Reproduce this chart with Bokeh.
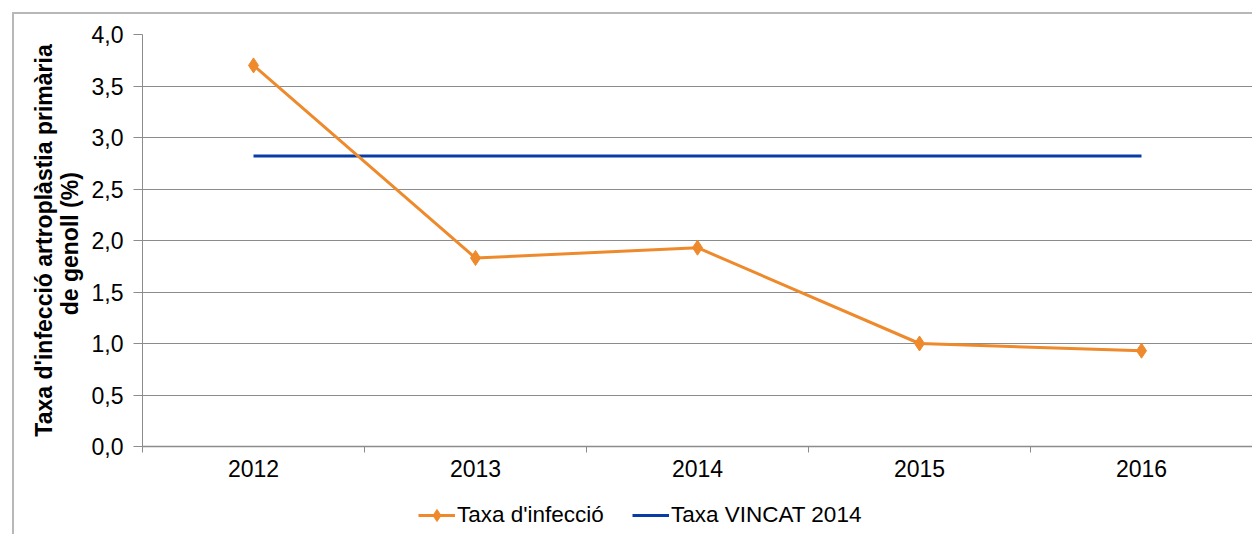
from bokeh.plotting import figure
from bokeh.layouts import column
from bokeh.models import (Range1d, FixedTicker, CustomJSTickFormatter, Legend, LegendItem,
                          ColumnDataSource, BasicTickFormatter, InlineStyleSheet)
from bokeh.embed import file_html
from bokeh.resources import INLINE

# ---- data ----
years = [2012, 2013, 2014, 2015, 2016]
infection_rate = [3.70, 1.83, 1.93, 1.00, 0.93]
vincat_2014 = [2.82, 2.82, 2.82, 2.82, 2.82]
y_ticks = [0.0, 0.5, 1.0, 1.5, 2.0, 2.5, 3.0, 3.5, 4.0]
y_labels = ["0,0", "0,5", "1,0", "1,5", "2,0", "2,5", "3,0", "3,5", "4,0"]
series_names = ["Taxa d'infecció", "Taxa VINCAT 2014"]
y_title = "Taxa d'infecció artroplàstia primària\nde genoll  (%)"

FONT = "Liberation Sans"
ORANGE = "#EE8A2B"
BLUE = "#0A3CA6"
GRID = "#8C8C8C"
BORDER = "#B8B8B8"
FS = "23px"
FS_LEG = "22.5px"

src = ColumnDataSource(dict(year=years, rate=infection_rate, vincat=vincat_2014))

p = figure(width=1252, height=490, output_backend="svg", toolbar_location=None,
           x_range=Range1d(years[0] - 0.5, years[-1] + 0.5), y_range=Range1d(0, 4),
           min_border_left=142, min_border_right=0, min_border_top=34, min_border_bottom=44)
p.outline_line_color = None
p.background_fill_color = "white"
p.border_fill_color = "white"

# outer chart border (the reference frame is cropped at right / bottom)
p.stylesheets = [InlineStyleSheet(css=f"""
:host::after {{ content: ''; position: absolute; left: 12px; top: 12px;
  right: 0px; bottom: 0px; border-left: 2px solid {BORDER};
  border-top: 2px solid {BORDER}; pointer-events: none; }}
""")]

r_blue = p.line("year", "vincat", source=src, line_color=BLUE, line_width=3)
r_or = p.line("year", "rate", source=src, line_color=ORANGE, line_width=3)
r_or_m = p.scatter("year", "rate", source=src, marker="diamond", size=15,
                   fill_color=ORANGE, line_color=ORANGE)

# axes
xa = p.xaxis[0]
xa.ticker = FixedTicker(ticks=years, minor_ticks=[y - 0.5 for y in years] + [years[-1] + 0.5])
xa.formatter = BasicTickFormatter(use_scientific=False)
xa.major_tick_line_color = None
xa.major_tick_out = 0
xa.minor_tick_out = 6
xa.minor_tick_in = 0
xa.minor_tick_line_color = GRID
xa.axis_line_color = GRID
xa.axis_line_width = 1.5
xa.major_label_standoff = 7
xa.major_label_text_font = FONT
xa.major_label_text_font_size = FS
xa.major_label_text_color = "black"

ya = p.yaxis[0]
ya.ticker = FixedTicker(ticks=y_ticks, minor_ticks=[])
ya.formatter = CustomJSTickFormatter(args=dict(yt=y_ticks, yl=y_labels), code="""
const i = yt.findIndex(t => Math.abs(t - tick) < 1e-9);
return i >= 0 ? yl[i] : '';
""")
ya.major_tick_out = 9
ya.major_tick_in = 0
ya.major_tick_line_color = GRID
ya.axis_line_color = GRID
ya.major_label_standoff = 10
ya.major_label_text_font = FONT
ya.major_label_text_font_size = FS
ya.major_label_text_color = "black"
ya.axis_label = y_title
ya.axis_label_text_font = FONT
ya.axis_label_text_font_style = "bold"
ya.axis_label_text_font_size = "23px"
ya.axis_label_text_line_height = 1.0
ya.axis_label_text_color = "black"
ya.axis_label_standoff = 6

p.xgrid.grid_line_color = None
p.ygrid.grid_line_color = GRID
p.ygrid.grid_line_width = 1.2
p.ygrid.ticker = FixedTicker(ticks=y_ticks)

# ---- legend strip below the chart (frames of the column are aligned) ----
lf = figure(width=1252, height=44, output_backend="svg", toolbar_location=None,
            x_range=Range1d(0, 1), y_range=Range1d(0, 1),
            x_axis_location=None, y_axis_location=None,
            min_border_left=0, min_border_right=0, min_border_top=0, min_border_bottom=0)
lf.outline_line_color = None
lf.grid.grid_line_color = None
lf.background_fill_color = "white"
lf.border_fill_color = "white"
lf.stylesheets = [InlineStyleSheet(css=f"""
:host::after {{ content: ''; position: absolute; left: 12px; top: 0px;
  bottom: 0px; border-left: 2px solid {BORDER}; pointer-events: none; }}
""")]
# legend proxies: same series, out of this strip's visible range
l_or = lf.line("year", "rate", source=src, line_color=ORANGE, line_width=3)
l_or_m = lf.scatter("year", "rate", source=src, marker="diamond", size=12,
                    fill_color=ORANGE, line_color=ORANGE)
l_blue = lf.line("year", "vincat", source=src, line_color=BLUE, line_width=3)

legend = Legend(items=[LegendItem(label=series_names[0], renderers=[l_or, l_or_m]),
                       LegendItem(label=series_names[1], renderers=[l_blue])],
                orientation="horizontal", location=(276, 4),
                glyph_width=37, glyph_height=30, label_standoff=2, spacing=28,
                padding=0, margin=0, border_line_color=None, background_fill_alpha=0,
                label_text_font=FONT, label_text_font_size=FS_LEG, label_text_color="black")
lf.add_layout(legend, "center")

layout = column(p, lf, spacing=0)
open("out.html", "w").write(file_html(layout, INLINE))
